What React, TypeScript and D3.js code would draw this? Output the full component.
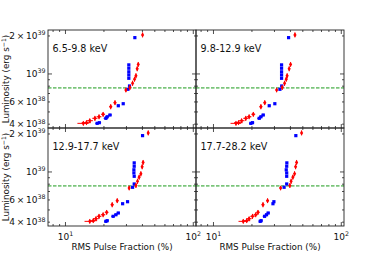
import * as d3 from 'd3';
import { useEffect, useRef } from 'react';

// energy bands, one per panel
const bands = ['6.5-9.8 keV', '9.8-12.9 keV', '12.9-17.7 keV', '17.7-28.2 keV'];

// luminosity in units of 1e38 erg/s
const lumRed = [20.4, 11.9, 11.0, 9.68, 9.09, 8.44, 7.81, 7.46, 5.92, 5.5, 4.79, 4.58, 4.45, 4.26, 4.11, 4.06];
const lumBlue = [19.4, 11.8, 11.1, 10.4, 9.82, 9.24, 8.03, 7.56, 5.81, 5.6, 4.73, 4.58, 4.45, 4.11, 4.06];
const lumRedErr = [0.9, 0.5, 0.5, 0.45, 0.4, 0.4, 0.35, 0.3, 0.25, 0.25, 0.2, 0.2, 0.2, 0.15, 0.15, 0.15];

// rms pulse fraction (%) per band
const pfRed = [
  [40.1, 37.1, 36.4, 35.6, 34.7, 33.5, 31.9, 29.7, 24.4, 22.6, 19.7, 18.3, 17.0, 15.5, 14.6, 13.8],
  [43.4, 40.1, 39.1, 37.7, 37.1, 36.0, 34.5, 31.2, 25.2, 23.5, 20.5, 19.0, 17.9, 16.6, 15.7, 15.0],
  [44.4, 40.5, 39.8, 38.9, 37.7, 36.6, 35.6, 31.5, 25.4, 23.2, 21.0, 19.7, 18.3, 17.3, 16.5, 15.5],
  [48.9, 44.7, 43.9, 43.1, 41.8, 40.5, 39.6, 33.5, 26.5, 24.4, 22.3, 21.4, 20.2, 19.0, 18.2, 17.1],
];
const pfBlue = [
  [34.9, 31.3, 31.3, 31.3, 31.3, 31.3, 31.7, 30.8, 28.3, 25.9, 22.3, 21.2, 20.7, 18.4, 17.7],
  [38.7, 34.1, 34.1, 34.1, 34.1, 34.1, 34.2, 33.1, 30.2, 27.3, 24.5, 23.5, 22.8, 20.2, 19.6],
  [40.1, 34.5, 34.5, 34.3, 34.3, 34.5, 34.5, 33.5, 30.6, 28.0, 25.9, 24.8, 23.6, 21.2, 20.7],
  [44.1, 37.5, 37.4, 37.1, 37.4, 37.4, 37.4, 35.7, 29.7, 29.2, 26.8, 26.0, 25.1, 23.6, 23.2],
];
const pfRedErr = [0.4, 0.4, 0.4, 0.4, 0.4, 0.4, 0.4, 0.5, 0.6, 0.6, 0.7, 0.8, 0.8, 0.9, 1.2, 1.4];
const pfBlueErr = [0.3, 0.3, 0.3, 0.3, 0.3, 0.3, 0.3, 0.3, 0.4, 0.5, 0.8, 0.8, 0.8, 0.6, 0.6];

const eddington = 7.75; // 1e38 erg/s

const xMajor = [10, 100];
const xMinor = [8, 9, 20, 30, 40, 50, 60, 70, 80, 90];
const yMajor = [10];
const yMinor = [4, 5, 6, 7, 8, 9, 20];
const yLabels = [
  { v: 20, mant: '2', exp: '39' },
  { v: 10, mant: '', exp: '39' },
  { v: 6, mant: '6', exp: '38' },
  { v: 4, mant: '4', exp: '38' },
];

const FONT = 'DejaVu Sans, sans-serif';

export default function App() {
  const ref = useRef<SVGSVGElement>(null);

  useEffect(() => {
    if (!ref.current) return;
    const svg = d3.select(ref.current);
    svg.selectAll('*').remove();

    const left = 48, top = 30, pw = 148, ph = 98;

    bands.forEach((band, i) => {
      const col = i % 2, row = Math.floor(i / 2);
      const x0 = left + col * pw, y0 = top + row * ph;
      const x = d3.scaleLog().domain([7.3, 105]).range([x0, x0 + pw]);
      const y = d3.scaleLog().domain([3.73, 22.3]).range([y0 + ph, y0]);
      const g = svg.append('g');

      // ticks inside on all four sides
      const tick = (v: number, len: number, vertical: boolean) => {
        if (vertical) {
          g.append('line').attr('x1', x(v)).attr('x2', x(v)).attr('y1', y0 + ph).attr('y2', y0 + ph - len)
            .attr('stroke', '#222').attr('stroke-width', 0.8);
          g.append('line').attr('x1', x(v)).attr('x2', x(v)).attr('y1', y0).attr('y2', y0 + len)
            .attr('stroke', '#222').attr('stroke-width', 0.8);
        } else {
          g.append('line').attr('y1', y(v)).attr('y2', y(v)).attr('x1', x0).attr('x2', x0 + len)
            .attr('stroke', '#222').attr('stroke-width', 0.8);
          g.append('line').attr('y1', y(v)).attr('y2', y(v)).attr('x1', x0 + pw).attr('x2', x0 + pw - len)
            .attr('stroke', '#222').attr('stroke-width', 0.8);
        }
      };
      xMajor.forEach(v => tick(v, 4, true));
      xMinor.forEach(v => tick(v, 2, true));
      yMajor.forEach(v => tick(v, 4, false));
      yMinor.forEach(v => tick(v, 2, false));

      // eddington line
      g.append('line')
        .attr('x1', x0).attr('x2', x0 + pw)
        .attr('y1', y(eddington)).attr('y2', y(eddington))
        .attr('stroke', '#1a9a1a').attr('stroke-width', 1)
        .attr('stroke-dasharray', '3.5,1.5');

      // blue squares with x errors
      pfBlue[i].forEach((pf, j) => {
        const cy = y(lumBlue[j]);
        g.append('line')
          .attr('x1', x(pf - pfBlueErr[j])).attr('x2', x(pf + pfBlueErr[j]))
          .attr('y1', cy).attr('y2', cy)
          .attr('stroke', '#0000ff').attr('stroke-width', 1);
        g.append('rect')
          .attr('x', x(pf) - 1.6).attr('y', cy - 1.6)
          .attr('width', 3.2).attr('height', 3.2)
          .attr('fill', '#0000ff');
      });

      // red thin diamonds with x and y errors
      pfRed[i].forEach((pf, j) => {
        const cx = x(pf), cy = y(lumRed[j]);
        g.append('line')
          .attr('x1', x(pf - pfRedErr[j])).attr('x2', x(pf + pfRedErr[j]))
          .attr('y1', cy).attr('y2', cy)
          .attr('stroke', '#ff0000').attr('stroke-width', 1);
        g.append('line')
          .attr('x1', cx).attr('x2', cx)
          .attr('y1', y(lumRed[j] - lumRedErr[j])).attr('y2', y(lumRed[j] + lumRedErr[j]))
          .attr('stroke', '#ff0000').attr('stroke-width', 1);
        g.append('path')
          .attr('d', `M${cx},${cy - 2.6}L${cx + 1.6},${cy}L${cx},${cy + 2.6}L${cx - 1.6},${cy}Z`)
          .attr('fill', '#ff0000');
      });

      // frame
      g.append('rect')
        .attr('x', x0).attr('y', y0).attr('width', pw).attr('height', ph)
        .attr('fill', 'none').attr('stroke', '#222').attr('stroke-width', 0.9);

      g.append('text')
        .attr('x', x0 + 4.5).attr('y', y0 + 22)
        .attr('font-family', FONT).attr('font-size', 9.6).attr('fill', '#111')
        .text(band);

      if (col === 0) {
        yLabels.forEach(l => {
          const t = g.append('text')
            .attr('x', x0 - 2.5).attr('y', y(l.v) + 3.2)
            .attr('text-anchor', 'end')
            .attr('font-family', FONT).attr('font-size', 9).attr('fill', '#111');
          if (l.mant) t.append('tspan').text(`${l.mant}\u2009×\u200910`);
          else t.append('tspan').text('10');
          t.append('tspan').attr('dy', -3.8).attr('font-size', 6.3).text(l.exp);
        });
        const lab = svg.append('text')
          .attr('transform', `translate(9,${y0 + ph / 2}) rotate(-90)`)
          .attr('text-anchor', 'middle')
          .attr('font-family', FONT).attr('font-size', 8.8).attr('fill', '#111');
        lab.append('tspan').text('Luminosity (erg s');
        lab.append('tspan').attr('dy', -3.5).attr('font-size', 6.2).text('−1');
        lab.append('tspan').attr('dy', 3.5).text(')');
      }

      if (row === 1) {
        xMajor.forEach((v, k) => {
          const t = g.append('text')
            .attr('x', x(v)).attr('y', y0 + ph + 14)
            .attr('text-anchor', 'middle')
            .attr('font-family', FONT).attr('font-size', 9).attr('fill', '#111');
          t.append('tspan').text('10');
          t.append('tspan').attr('dy', -3.8).attr('font-size', 6.3).text(String(k + 1));
        });
        g.append('text')
          .attr('x', x0 + pw / 2).attr('y', y0 + ph + 24)
          .attr('text-anchor', 'middle')
          .attr('font-family', FONT).attr('font-size', 8.8).attr('fill', '#111')
          .text('RMS Pulse Fraction (%)');
      }
    });
  }, []);

  return (
    <svg ref={ref} width={384} height={256}
      style={{ position: 'absolute', left: 0, top: 0, background: '#fff' }} />
  );
}
